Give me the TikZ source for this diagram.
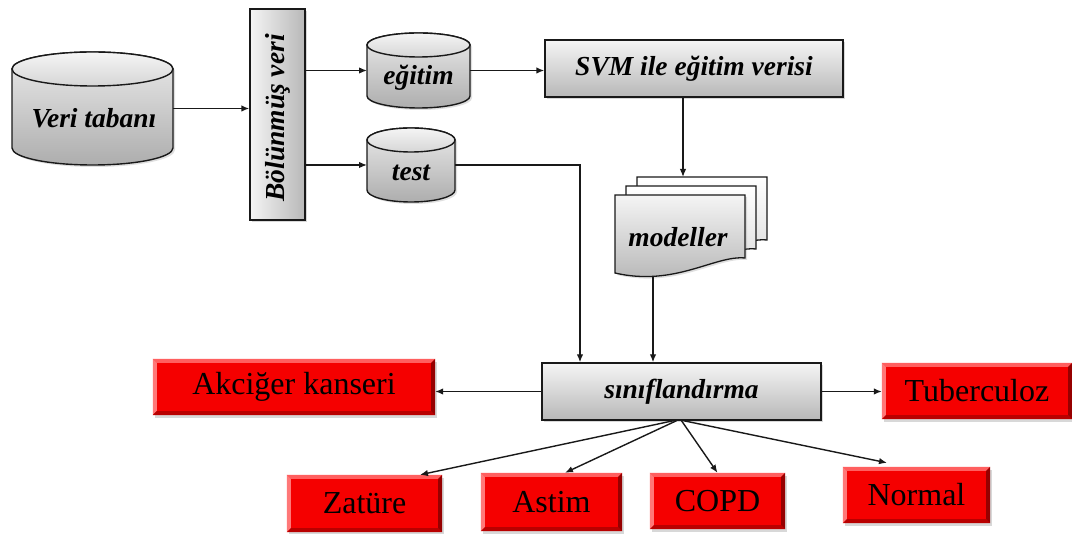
\documentclass[tikz,border=0pt]{standalone}
\usepackage{fontspec}
\setmainfont{Liberation Serif}
\usetikzlibrary{arrows.meta,shadows,calc}
\definecolor{boxred}{RGB}{245,0,0}
\definecolor{bevtop}{RGB}{255,95,95}
\definecolor{bevleft}{RGB}{255,120,120}
\definecolor{bevbot}{RGB}{185,0,0}
\definecolor{bevright}{RGB}{150,0,0}
\tikzset{
  arr/.style={-{Latex[length=8pt,width=6.5pt]}, line width=1.4pt, draw=black!90},
  lbl/.style={font=\fontsize{27.5}{29}\selectfont\bfseries\itshape, inner sep=0pt},
  redlbl/.style={font=\fontsize{32}{34}\selectfont, inner sep=0pt},
  graybox/.style={draw=black!90, line width=1.4pt, top color=black!4, bottom color=black!28, inner sep=0pt,
    drop shadow={opacity=0.3,shadow xshift=2pt,shadow yshift=-2pt}},
  cylbody/.style={draw=black!90, line width=1.4pt, top color=black!8, bottom color=black!32,
    drop shadow={opacity=0.25,shadow xshift=2pt,shadow yshift=-2pt}},
  cyltop/.style={draw=black!90, line width=1.4pt, top color=black!4, bottom color=black!16},
  docsheet/.style={draw=black!90, line width=1.3pt, top color=white, bottom color=black!15},
  docfront/.style={draw=black!90, line width=1.3pt, top color=black!4, bottom color=black!30,
    drop shadow={opacity=0.25,shadow xshift=2pt,shadow yshift=-2pt}},
  redbox/.style={fill=boxred, inner sep=0pt,
    drop shadow={opacity=0.3,shadow xshift=2pt,shadow yshift=-3pt}},
  anchorbox/.style={inner sep=0pt, outer sep=0pt}
}
\newcommand\mycyl[5]{% cx, top y, rx, bottom y, ry
  \path[cylbody] (#1-#3,-#2-#5) -- (#1-#3,-#4+#5)
     arc[start angle=180,end angle=360,x radius=#3,y radius=#5]
     -- (#1+#3,-#2-#5)
     arc[start angle=0,end angle=180,x radius=#3,y radius=#5] -- cycle;
  \path[cyltop] (#1,-#2-#5) ellipse[x radius=#3,y radius=#5];
}
\newcommand\mydoc[3]{% left, top, style
  \path[#3] (#1,-#2) -- (#1+130,-#2) -- (#1+130,-#2-63)
     .. controls (#1+100,-#2-60) and (#1+60,-#2-92) .. (#1,-#2-78) -- cycle;
}
\newcommand\bevel[1]{%
  \fill[bevtop] (#1.north west) -- (#1.north east) -- ([shift={(-4pt,-4pt)}]#1.north east) -- ([shift={(4pt,-4pt)}]#1.north west) -- cycle;
  \fill[bevleft] (#1.north west) -- ([shift={(4pt,-4pt)}]#1.north west) -- ([shift={(4pt,4pt)}]#1.south west) -- (#1.south west) -- cycle;
  \fill[bevbot] (#1.south west) -- ([shift={(4pt,4pt)}]#1.south west) -- ([shift={(-4pt,4pt)}]#1.south east) -- (#1.south east) -- cycle;
  \fill[bevright] (#1.north east) -- (#1.south east) -- ([shift={(-4pt,4pt)}]#1.south east) -- ([shift={(-4pt,-4pt)}]#1.north east) -- cycle;
}
\begin{document}
\begin{tikzpicture}[x=1pt,y=1pt]
\useasboundingbox[fill=white] (0,0) rectangle (1072,-534);

% cylinders
\mycyl{92.5}{52}{80.5}{165}{17}
\node[anchorbox, minimum width=161pt, minimum height=113pt] (veri) at (92.5,-108.5) {};
\node[lbl] (veritxt) at (94,-118) {Veri tabanı};

\mycyl{418.5}{33}{51.5}{108}{12}
\node[anchorbox, minimum width=103pt, minimum height=75pt] (egitim) at (418.5,-70.5) {};
\node[lbl] (egitimtxt) at (418.5,-78) {eğitim};

\mycyl{411}{128}{44}{202}{12}
\node[anchorbox, minimum width=88pt, minimum height=74pt] (test) at (411,-165) {};
\node[lbl] (testtxt) at (411,-173) {test};

% split box
\node[graybox, left color=black!4, right color=black!28, minimum width=55pt, minimum height=211pt] (bol) at (277.5,-114.5) {};
\node[lbl, rotate=90] (boltxt) at (277.5,-118) {Bölünmüş veri};

% SVM box
\node[graybox, lbl, minimum width=298pt, minimum height=57pt] (svm) at (694,-68.5) {SVM ile eğitim verisi};

% document stack
\mydoc{637}{177}{docsheet}
\mydoc{626}{186}{docsheet}
\mydoc{615}{195}{docfront}
\node[anchorbox, minimum width=136pt, minimum height=100pt] (docs) at (683,-227) {};
\node[lbl] (docstxt) at (678,-237) {modeller};

% classification
\node[graybox, lbl, minimum width=279pt, minimum height=57pt] (sinif) at (681.5,-391.5) {sınıflandırma};

% red boxes
\node[redbox, minimum width=282pt, minimum height=56pt] (akc) at (294,-387) {};
\node[redbox, minimum width=190pt, minimum height=56pt] (tub) at (977,-391) {};
\node[redbox, minimum width=155pt, minimum height=57pt] (zat) at (364.5,-503.5) {};
\node[redbox, minimum width=141pt, minimum height=58pt] (ast) at (551.5,-502) {};
\node[redbox, minimum width=135pt, minimum height=56pt] (copd) at (717.5,-501) {};
\node[redbox, minimum width=147pt, minimum height=56pt] (norm) at (916.5,-495) {};
\bevel{akc}\bevel{tub}\bevel{zat}\bevel{ast}\bevel{copd}\bevel{norm}
\node[redlbl] (akctxt) at (akc) {Akciğer kanseri};
\node[redlbl] (tubtxt) at (tub) {Tuberculoz};
\node[redlbl] (zattxt) at (zat) {Zatüre};
\node[redlbl] (asttxt) at (ast) {Astim};
\node[redlbl] (copdtxt) at (copd) {COPD};
\node[redlbl] (normtxt) at (norm) {Normal};

% connectors
\draw[arr] (veri.east) -- (bol.west |- veri.east);
\draw[arr] (bol.east |- egitim.west) -- (egitim.west);
\draw[arr] (bol.east |- test.west) -- (test.west);
\draw[arr] (egitim.east) -- (svm.west |- egitim.east);
\draw[arr] (svm.south -| docs.north) -- (docs.north);
\draw[arr] (test.east) -| ([xshift=-101.5pt]sinif.north);
\draw[arr] ([xshift=-30pt]docs.south) -- ([xshift=-30pt]docs.south |- sinif.north);
\draw[arr] (sinif.west) -- (akc.east |- sinif.west);
\draw[arr] (sinif.east) -- (tub.west |- sinif.east);
\draw[arr] ([xshift=-8pt]sinif.south) -- ([xshift=55.5pt]zat.north);
\draw[arr] ([xshift=-5pt]sinif.south) -- ([xshift=13.5pt]ast.north);
\draw[arr] ([xshift=0pt]sinif.south) -- ([xshift=0pt]copd.north);
\draw[arr] ([xshift=2pt]sinif.south) -- ([xshift=-29.5pt,yshift=4pt]norm.north);
\end{tikzpicture}
\end{document}
